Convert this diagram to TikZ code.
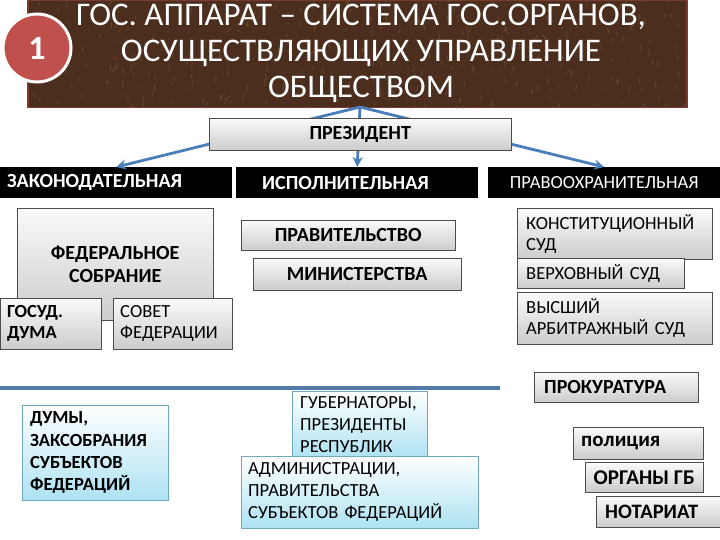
\documentclass[tikz,border=0pt]{standalone}
\usepackage{fontspec}
\setmainfont{Carlito}
\usepackage{xcolor}
\usetikzlibrary{arrows, arrows.meta, positioning}

\definecolor{bannerbrown}{HTML}{4B2E1D}
\definecolor{bannerlight}{HTML}{8C6A48}
\definecolor{banneredge}{HTML}{7A3B2E}
\definecolor{badgered}{HTML}{C0504D}
\definecolor{arrowblue}{HTML}{4A7EBB}
\definecolor{ruleblue}{HTML}{4F7BA6}
\definecolor{cyanbottom}{HTML}{ADE2F2}
\definecolor{cyanedge}{HTML}{6FA8C0}

\tikzstyle{branch} = [rectangle, fill=black, text=white, anchor=north west, inner sep=0pt, minimum height=31pt]
\tikzstyle{graybox} = [rectangle, draw=black!70, top color=gray!4, bottom color=gray!40, anchor=north west, inner sep=0pt, font=\fontsize{20}{23}\selectfont\bfseries]
\tikzstyle{plainbox} = [graybox, align=left, font=\fontsize{18.5}{21}\selectfont]
\tikzstyle{bluebox} = [rectangle, draw=cyanedge, top color=white, bottom color=cyanbottom, anchor=north west, inner sep=0pt, align=left, font=\fontsize{18.5}{22}\selectfont]
\tikzstyle{arrow} = [-{Stealth[length=10pt,width=10pt]}, line width=2.8pt, draw=arrowblue]

\begin{document}
\begin{tikzpicture}[x=1pt, y=-1pt]
\useasboundingbox (0,0) rectangle (720,540);

% Title banner and number badge
\node[rectangle, fill=bannerbrown, draw=banneredge, line width=1.5pt, anchor=north west, minimum width=659pt, minimum height=107pt, inner sep=0pt] (banner) at (27,0) {};
\begin{scope}
\clip (banner.north west) rectangle (banner.south east);
\pgfmathsetseed{7}
\foreach \k in {1,...,420} {
  \pgfmathsetmacro{\tx}{27+659*rnd}
  \pgfmathsetmacro{\ty}{107*rnd}
  \draw[bannerlight, line width=0.8pt, opacity=0.45] (\tx,\ty) -- ++(4*rnd-2,14*rnd-7);
}
\end{scope}
\node[text=white, align=center, font=\fontsize{33}{36}\selectfont] (title) at (361,53) {ГОС. АППАРАТ -- СИСТЕМА ГОС.ОРГАНОВ,\\ОСУЩЕСТВЛЯЮЩИХ УПРАВЛЕНИЕ\\ОБЩЕСТВОМ};
\node[circle, fill=badgered, draw=white, line width=3pt, minimum size=68pt, inner sep=0pt, text=white, font=\fontsize{34}{36}\selectfont\bfseries] (badge) at (37,48) {1};
\coordinate (apex) at (360,107);

% Three branches
\node[branch, text width=218pt, inner xsep=7pt, align=left, font=\fontsize{20}{22}\selectfont\bfseries] (legis) at (0,167) {ЗАКОНОДАТЕЛЬНАЯ};
\node[branch, text width=190pt, inner xsep=26pt, align=left, font=\fontsize{20}{22}\selectfont\bfseries] (exec) at (236,167) {ИСПОЛНИТЕЛЬНАЯ};
\node[branch, minimum width=232pt, font=\fontsize{18.5}{20}\selectfont] (law) at (488,167) {ПРАВООХРАНИТЕЛЬНАЯ};

% Arrows from the title (drawn under the president box)
\draw[arrow] (apex) -- (legis.north);
\draw[arrow] (apex) -- (exec.north);
\draw[arrow] (apex) -- (law.north);

\node[graybox, minimum width=302pt, minimum height=32pt] (president) at (209,118) {ПРЕЗИДЕНТ};

% Legislative
\node[graybox, minimum width=196pt, minimum height=112pt, align=center] (assembly) at (17,208) {ФЕДЕРАЛЬНОЕ\\СОБРАНИЕ};
\node[graybox, text width=87pt, inner xsep=7pt, align=left, minimum height=51pt, font=\fontsize{18.5}{21}\selectfont\bfseries] (duma) at (0,298) {ГОСУД.\\ДУМА};
\node[plainbox, text width=105pt, inner xsep=7pt, minimum height=51pt] (council) at (113,298) {СОВЕТ\\ФЕДЕРАЦИИ};

% Executive
\node[graybox, minimum width=214pt, minimum height=30pt] (government) at (241,220) {ПРАВИТЕЛЬСТВО};
\node[graybox, minimum width=208pt, minimum height=32pt] (ministries) at (253,258) {МИНИСТЕРСТВА};

% Law enforcement
\node[plainbox, text width=177pt, inner xsep=9pt, minimum height=51pt] (constcourt) at (517,208) {КОНСТИТУЦИОННЫЙ\\СУД};
\node[plainbox, text width=149pt, inner xsep=9pt, minimum height=30pt] (supreme) at (517,258) {ВЕРХОВНЫЙ СУД};
\node[plainbox, text width=177pt, inner xsep=9pt, minimum height=52pt] (arbitration) at (517,292) {ВЫСШИЙ\\АРБИТРАЖНЫЙ СУД};

% Separator
\coordinate (sepL) at (0,388);
\coordinate (sepR) at (500,388);
\draw[draw=ruleblue, line width=4.5pt] (sepL) -- (sepR);

% Regional level
\node[bluebox, text width=130pt, inner xsep=8pt, minimum height=95pt, font=\fontsize{18.5}{22.3}\selectfont\bfseries] (regduma) at (22,405) {ДУМЫ,\\ЗАКСОБРАНИЯ\\СУБЪЕКТОВ\\ФЕДЕРАЦИЙ};
\node[bluebox, text width=119pt, inner xsep=8pt, minimum height=67pt] (governors) at (292,391) {ГУБЕРНАТОРЫ,\\ПРЕЗИДЕНТЫ\\РЕСПУБЛИК};
\node[bluebox, text width=223pt, inner xsep=7pt, minimum height=72pt] (administr) at (241,456) {АДМИНИСТРАЦИИ,\\ПРАВИТЕЛЬСТВА\\СУБЪЕКТОВ ФЕДЕРАЦИЙ};

% Other law enforcement bodies
\node[graybox, text width=144pt, inner xsep=10pt, align=left, minimum height=30pt] (prosecutor) at (534,372) {ПРОКУРАТУРА};
\node[graybox, text width=114pt, inner xsep=8pt, align=left, minimum height=32pt, font=\fontsize{21}{23}\selectfont\bfseries] (police) at (573,427) {полиция};
\node[graybox, minimum width=118pt, minimum height=30pt, font=\fontsize{21}{23}\selectfont\bfseries] (security) at (585,462) {ОРГАНЫ ГБ};
\node[graybox, text width=106pt, inner xsep=9pt, align=left, minimum height=31pt, font=\fontsize{20.5}{23}\selectfont\bfseries] (notary) at (596,496) {НОТАРИАТ};

\end{tikzpicture}
\end{document}
